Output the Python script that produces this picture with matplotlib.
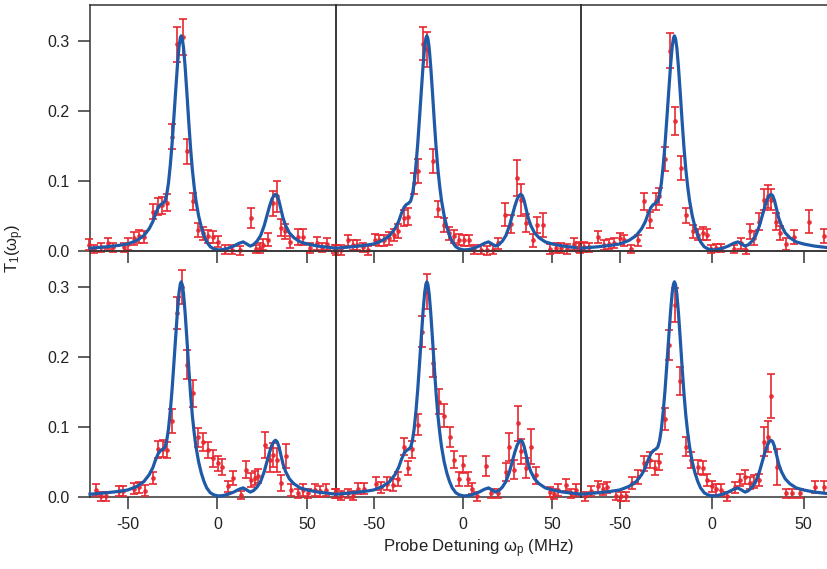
import matplotlib
matplotlib.use('Agg')
import matplotlib.pyplot as plt
from matplotlib.ticker import FormatStrFormatter

plt.rcParams['font.family'] = ['Liberation Sans', 'DejaVu Sans']
plt.rcParams['mathtext.fontset'] = 'custom'
plt.rcParams['mathtext.rm'] = 'Liberation Sans'
plt.rcParams['mathtext.it'] = 'Liberation Sans:italic'
plt.rcParams['mathtext.default'] = 'regular'
plt.rcParams['axes.unicode_minus'] = False

# fitted spectrum (same model curve in every panel)
fitX = [-71, -62, -55, -50, -45, -41, -38, -36, -34.5, -33, -31.8, -30.5, -29.3, -28.3,
        -27.3, -26.3, -25.3, -24.3, -23.3, -22.3, -21.4, -20.7, -20.2, -19.6, -18.9, -18.0,
        -17.0, -16.0, -15.0, -14.0, -13.0, -12.0, -10.5, -9.0, -7.5, -6.0, -4.0, -2.0, 0.5,
        3, 6, 9, 12, 14.3, 16.3, 18.2, 20, 22, 24, 26, 27.5, 29, 30.3, 31.4, 32.3, 33.2,
        34.2, 35.3, 36.5, 38, 40, 42.5, 46, 50, 56, 66]
fitY = [0.004, 0.006, 0.008, 0.010, 0.015, 0.022, 0.032, 0.042, 0.053, 0.062, 0.066, 0.068,
        0.071, 0.080, 0.097, 0.122, 0.153, 0.190, 0.228, 0.265, 0.292, 0.304, 0.307, 0.303,
        0.290, 0.262, 0.224, 0.184, 0.147, 0.116, 0.092, 0.072, 0.050, 0.034, 0.022, 0.013,
        0.006, 0.003, 0.0015, 0.002, 0.004, 0.007, 0.011, 0.013, 0.010, 0.007, 0.009, 0.014,
        0.022, 0.036, 0.050, 0.064, 0.074, 0.079, 0.081, 0.079, 0.072, 0.060, 0.047, 0.036,
        0.026, 0.019, 0.013, 0.010, 0.007, 0.004]

# measured points, top row
tlX = [-71.4, -68.6, -64.9, -60.8, -58.4, -51.9, -50.0, -46.3, -43.5, -40.7, -36.0, -33.2,
       -31.0, -28.0, -25.6, -22.8, -19.4, -16.9, -13.9, -10.9, -8.1, -5.3, -2.5, 0.3, 4.0,
       8.1, 12.4, 18.9, 21.7, 23.6, 25.4, 28.2, 31.0, 32.9, 35.3, 37.5, 40.3, 45.0, 47.8,
       51.5, 55.2, 58.0, 60.8, 65.5]
tlY = [0.009, 0.003, 0.005, 0.011, 0.005, 0.005, 0.010, 0.018, 0.021, 0.020, 0.056, 0.064,
       0.065, 0.069, 0.163, 0.295, 0.305, 0.142, 0.071, 0.030, 0.025, 0.021, 0.020, 0.013,
       0.002, 0.002, 0.001, 0.047, 0.003, 0.004, 0.009, 0.016, 0.068, 0.078, 0.033, 0.028,
       0.013, 0.020, 0.020, 0.004, 0.011, 0.005, 0.010, 0.003]
tlE = [0.008, 0.006, 0.007, 0.008, 0.007, 0.007, 0.008, 0.009, 0.009, 0.009, 0.011, 0.012,
       0.012, 0.012, 0.018, 0.025, 0.026, 0.018, 0.012, 0.010, 0.009, 0.009, 0.009, 0.008,
       0.006, 0.006, 0.006, 0.014, 0.006, 0.007, 0.008, 0.009, 0.018, 0.022, 0.012, 0.011,
       0.009, 0.012, 0.012, 0.007, 0.009, 0.007, 0.008, 0.006]

tmX = [-71.0, -68.2, -64.5, -61.6, -59.2, -56.1, -53.3, -49.2, -46.8, -44.0, -41.1, -38.4,
       -36.1, -32.8, -30.6, -27.6, -25.3, -22.3, -20.1, -17.0, -14.0, -10.5, -7.7, -4.9,
       -2.1, 0.7, 3.1, 6.3, 10.1, 13.7, 16.6, 19.7, 23.5, 26.8, 30.2, 32.7, 35.3, 38.9,
       41.3, 44.5, 48.8, 51.9, 54.7, 58.4, 62.2, 65.5]
tmY = [0.001, 0.001, 0.015, 0.008, 0.008, 0.005, 0.001, 0.016, 0.015, 0.015, 0.018, 0.023,
       0.028, 0.047, 0.049, 0.097, 0.114, 0.296, 0.288, 0.128, 0.060, 0.037, 0.025, 0.021,
       0.016, 0.015, 0.015, 0.002, 0.002, 0.001, 0.002, 0.011, 0.052, 0.039, 0.104, 0.073,
       0.040, 0.015, 0.037, 0.037, 0.003, 0.004, 0.004, 0.003, 0.010, 0.004]
tmE = [0.007, 0.007, 0.008, 0.007, 0.007, 0.007, 0.006, 0.008, 0.008, 0.008, 0.009, 0.009,
       0.010, 0.012, 0.012, 0.015, 0.017, 0.024, 0.025, 0.017, 0.011, 0.010, 0.009, 0.009,
       0.008, 0.008, 0.008, 0.006, 0.006, 0.006, 0.006, 0.008, 0.017, 0.013, 0.026, 0.023,
       0.013, 0.009, 0.012, 0.017, 0.007, 0.007, 0.007, 0.007, 0.008, 0.007]

trX = [-71.9, -69.2, -66.5, -62.0, -58.3, -55.6, -52.9, -49.6, -47.4, -43.9, -40.2, -37.0,
       -33.5, -30.4, -28.8, -25.5, -22.8, -20.1, -16.8, -14.1, -10.3, -7.6, -4.9, -2.6,
       -0.4, 2.3, 5.1, 12.3, 15.9, 18.6, 21.0, 22.8, 25.9, 28.6, 30.4, 32.2, 34.9, 37.3,
       40.4, 44.6, 53.1, 61.3]
trY = [0.006, 0.006, 0.005, 0.020, 0.008, 0.010, 0.011, 0.018, 0.015, 0.003, 0.015, 0.071,
       0.044, 0.071, 0.078, 0.131, 0.286, 0.185, 0.119, 0.051, 0.028, 0.023, 0.025, 0.023,
       0.003, 0.004, 0.004, 0.003, 0.011, 0.002, 0.028, 0.018, 0.042, 0.073, 0.078, 0.073,
       0.042, 0.025, 0.010, 0.020, 0.042, 0.021]
trE = [0.007, 0.007, 0.007, 0.009, 0.007, 0.007, 0.007, 0.008, 0.008, 0.006, 0.008, 0.012,
       0.011, 0.012, 0.012, 0.017, 0.025, 0.020, 0.017, 0.011, 0.009, 0.008, 0.009, 0.008,
       0.006, 0.006, 0.006, 0.006, 0.008, 0.006, 0.011, 0.010, 0.012, 0.015, 0.016, 0.015,
       0.012, 0.010, 0.008, 0.010, 0.017, 0.010]

# measured points, bottom row
blX = [-67.6, -64.9, -62.1, -54.6, -52.8, -46.3, -43.5, -40.3, -35.9, -33.1, -30.3, -28.0,
       -25.3, -22.8, -20.0, -17.2, -13.9, -10.6, -7.8, -5.3, -2.5, 0.3, 2.5, 5.9, 8.7, 12.9,
       16.1, 18.9, 20.8, 22.6, 26.4, 29.2, 31.0, 32.9, 35.3, 37.9, 41.2, 44.6, 47.8, 50.6,
       54.3, 57.1, 60.2, 65.5]
blY = [0.010, 0.001, 0.001, 0.008, 0.008, 0.012, 0.014, 0.009, 0.027, 0.068, 0.069, 0.067,
       0.108, 0.262, 0.300, 0.189, 0.148, 0.085, 0.078, 0.067, 0.055, 0.048, 0.043, 0.015,
       0.027, 0.003, 0.039, 0.024, 0.027, 0.030, 0.074, 0.053, 0.060, 0.053, 0.020, 0.058,
       0.010, 0.005, 0.010, 0.005, 0.010, 0.008, 0.010, 0.005]
blE = [0.008, 0.006, 0.006, 0.007, 0.007, 0.008, 0.008, 0.008, 0.009, 0.012, 0.012, 0.012,
       0.017, 0.023, 0.024, 0.021, 0.019, 0.014, 0.013, 0.012, 0.012, 0.011, 0.011, 0.008,
       0.010, 0.006, 0.012, 0.010, 0.010, 0.010, 0.019, 0.017, 0.017, 0.017, 0.012, 0.017,
       0.008, 0.007, 0.008, 0.007, 0.008, 0.008, 0.008, 0.007]

bmX = [-71.0, -68.2, -64.5, -61.7, -58.5, -55.5, -48.6, -45.8, -42.5, -39.3, -36.5, -33.2,
       -30.7, -28.5, -25.4, -22.9, -20.1, -16.8, -13.6, -10.4, -7.5, -4.9, -2.1, -0.2, 2.6,
       4.8, 7.8, 12.8, 15.6, 19.7, 24.0, 25.9, 28.3, 30.5, 32.7, 35.2, 38.0, 40.8, 48.8,
       51.0, 53.2, 57.5, 60.3, 63.1]
bmY = [0.005, 0.002, 0.005, 0.002, 0.012, 0.012, 0.019, 0.014, 0.019, 0.017, 0.025, 0.072,
       0.042, 0.068, 0.103, 0.236, 0.293, 0.191, 0.136, 0.116, 0.086, 0.053, 0.025, 0.046,
       0.025, 0.012, 0.001, 0.044, 0.005, 0.005, 0.036, 0.072, 0.039, 0.105, 0.065, 0.041,
       0.072, 0.031, 0.007, 0.004, 0.010, 0.017, 0.005, 0.010]
bmE = [0.007, 0.006, 0.007, 0.006, 0.008, 0.008, 0.009, 0.008, 0.009, 0.009, 0.010, 0.012,
       0.010, 0.012, 0.015, 0.022, 0.025, 0.020, 0.018, 0.016, 0.014, 0.012, 0.010, 0.012,
       0.010, 0.008, 0.006, 0.014, 0.006, 0.006, 0.013, 0.020, 0.014, 0.025, 0.018, 0.014,
       0.025, 0.012, 0.007, 0.007, 0.008, 0.009, 0.007, 0.008]

brX = [-69.0, -65.4, -61.8, -59.1, -56.9, -51.8, -49.1, -46.4, -43.1, -40.0, -37.0, -33.7,
       -31.0, -28.6, -25.5, -23.2, -20.1, -17.0, -14.1, -11.0, -7.4, -4.7, -2.6, 0.4, 2.6,
       5.3, 8.3, 12.5, 15.2, 17.9, 20.7, 22.8, 25.7, 28.3, 30.6, 32.4, 35.5, 40.6, 43.9,
       47.8, 56.0, 60.9]
brY = [0.001, 0.008, 0.015, 0.011, 0.014, 0.002, 0.001, 0.001, 0.020, 0.029, 0.048, 0.053,
       0.041, 0.050, 0.111, 0.217, 0.274, 0.165, 0.072, 0.053, 0.043, 0.041, 0.024, 0.015,
       0.011, 0.010, 0.001, 0.014, 0.024, 0.029, 0.020, 0.022, 0.024, 0.079, 0.086, 0.144,
       0.043, 0.005, 0.005, 0.005, 0.014, 0.014]
brE = [0.006, 0.007, 0.008, 0.008, 0.008, 0.006, 0.006, 0.006, 0.009, 0.010, 0.011, 0.011,
       0.010, 0.011, 0.016, 0.021, 0.024, 0.020, 0.013, 0.011, 0.010, 0.010, 0.009, 0.008,
       0.008, 0.008, 0.006, 0.008, 0.009, 0.010, 0.009, 0.009, 0.009, 0.021, 0.022, 0.031,
       0.026, 0.006, 0.006, 0.006, 0.009, 0.009]

panels = [[(tlX, tlY, tlE), (tmX, tmY, tmE), (trX, trY, trE)],
          [(blX, blY, blE), (bmX, bmY, bmE), (brX, brY, brE)]]

red = '#e8262e'
blue = '#1f5aa8'
axisColor = '#333333'

W, H = 828, 569
colLeft = [90, 336, 581]
colWidth = [246, 245, 252]
rowTop = [5, 251]
rowHeight = 246

fig = plt.figure(figsize=(W/100, H/100), dpi=100)

for r in range(2):
    for c in range(3):
        ax = fig.add_axes([colLeft[c]/W, 1-(rowTop[r]+rowHeight)/H,
                           colWidth[c]/W, rowHeight/H])
        ax.patch.set_visible(False)
        x, y, e = panels[r][c]
        eb = ax.errorbar(x, y, yerr=e, fmt='o', ms=2.4, color=red, ecolor=red,
                         elinewidth=1.4, capsize=3.2, capthick=1.4, alpha=0.85, zorder=3)
        for art in eb.get_children():
            art.set_clip_on(False)
        ax.plot(fitX, fitY, color=blue, lw=2.3, zorder=4, clip_on=False)

        ax.set_xlim(-71, 66)
        ax.set_ylim(0, 0.351)
        ax.set_xticks([-50, 0, 50])
        ax.set_yticks([0.0, 0.1, 0.2, 0.3])
        ax.yaxis.set_major_formatter(FormatStrFormatter('%.1f'))
        for s in ax.spines.values():
            s.set_color(axisColor)
            s.set_linewidth(1.1)
            s.set_zorder(2)
        ax.tick_params(direction='out', length=8.5, width=1.1, color=axisColor,
                       labelsize=11.5, labelcolor='#222222', pad=6)
        if r == 0:
            ax.tick_params(labelbottom=False)
        if c > 0:
            ax.tick_params(left=False, labelleft=False)

fig.text(15/W, 1-248/H, 'T$_1$(ω$_p$)', rotation=90, ha='center', va='center',
         fontsize=12, color='#222222')
fig.text(479/W, 1-549/H, 'Probe Detuning ω$_p$ (MHz)', ha='center', va='center',
         fontsize=12, color='#222222')

fig.savefig('out.png', dpi=100)
